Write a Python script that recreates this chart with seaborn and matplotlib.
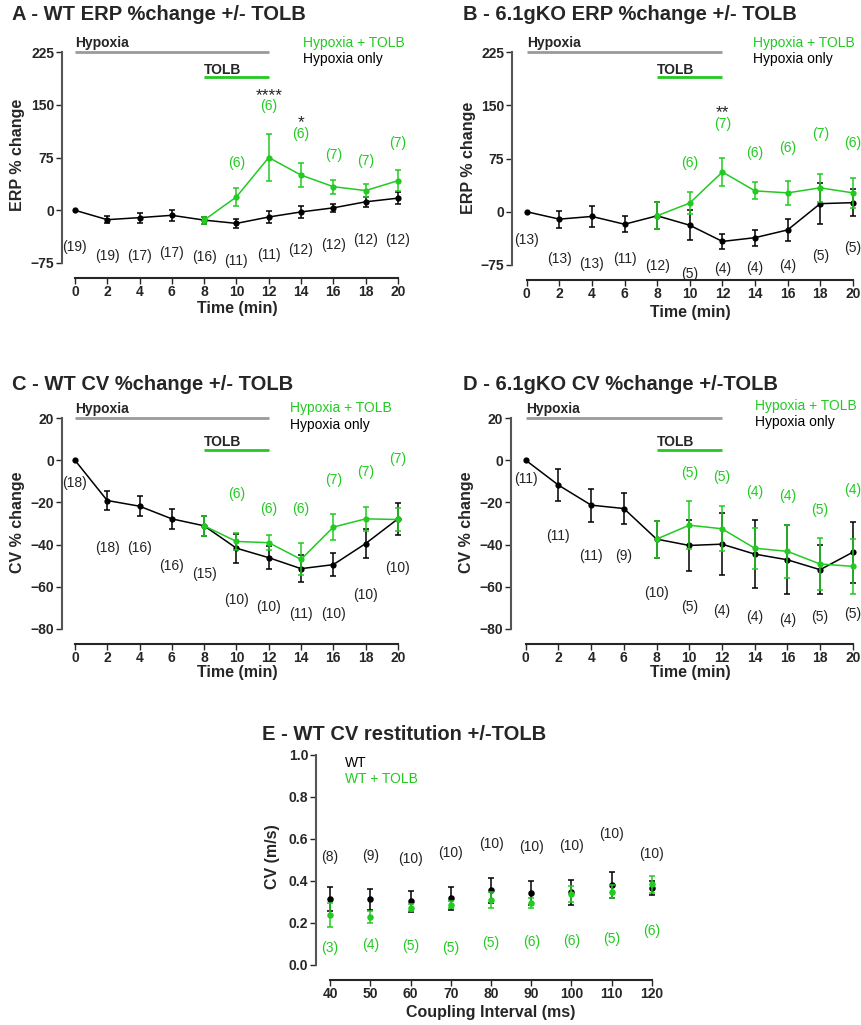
import numpy as np
import seaborn as sns
import matplotlib.pyplot as plt

sns.set_style('ticks')
plt.rcParams['font.family'] = ['Liberation Sans', 'DejaVu Sans']

green = '#22ca22'
grey = '#9a9a9a'
W, H = 861, 1025

time = [0, 2, 4, 6, 8, 10, 12, 14, 16, 18, 20]
time_tolb = [8, 10, 12, 14, 16, 18, 20]
time_n_tolb = [10, 12, 14, 16, 18, 20]

# A - WT ERP
a_hyp = [0, -13.4, -10.5, -7.2, -14, -18.7, -9.6, -2.4, 3.4, 12, 17.2]
a_hyp_err = [0, 5, 7, 8, 5, 6, 9, 9, 6, 7, 9]
a_tolb = [-14, 19, 75, 50, 33.5, 28, 42]
a_tolb_err = [5, 13, 33, 17, 10, 9, 15]
a_hyp_n = [19, 19, 17, 17, 16, 11, 11, 12, 12, 12, 12]
a_tolb_n = [6, 6, 6, 7, 7, 7]
a_stars = {12: '****', 14: '*'}

# B - 6.1gKO ERP
b_hyp = [0, -10.4, -6.6, -17.6, -5.7, -19, -41.8, -36.5, -25.6, 11.4, 12.8]
b_hyp_err = [0, 12, 14.5, 11, 19, 21, 10.5, 11.5, 16, 28.5, 19]
b_tolb = [-5.7, 12.3, 56, 29.4, 26.6, 33.7, 26.6]
b_tolb_err = [19, 15, 20, 12, 16.5, 20, 21]
b_hyp_n = [13, 13, 13, 11, 12, 5, 4, 4, 4, 5, 5]
b_tolb_n = [6, 7, 6, 6, 7, 6]
b_stars = {12: '**'}

# C - WT CV
c_hyp = [0, -19.1, -21.8, -27.8, -31.1, -41.7, -46.2, -51.4, -49.5, -39.5, -27.8]
c_hyp_err = [0, 4.3, 4.7, 4.8, 4.6, 6.9, 5.6, 6.3, 5.6, 6.8, 7.5]
c_tolb = [-31.1, -38.5, -39.1, -47, -31.7, -27.8, -28.1]
c_tolb_err = [4.6, 4, 3.6, 7.6, 6.1, 5.7, 5.4]
c_hyp_n = [18, 18, 16, 16, 15, 10, 10, 11, 10, 10, 10]
c_tolb_n = [6, 6, 6, 7, 7, 7]

# D - 6.1gKO CV
d_hyp = [0, -11.8, -21.3, -22.9, -37.4, -40.4, -39.8, -44.5, -47.2, -51.9, -43.6]
d_hyp_err = [0, 7.4, 7.8, 7.2, 8.8, 12.2, 14.6, 16.2, 16.3, 11.5, 14.4]
d_tolb = [-37.4, -30.8, -32.5, -41.7, -43.2, -49.2, -50.3]
d_tolb_err = [8.8, 11.4, 10.6, 9.7, 12.5, 12.5, 12.9]
d_hyp_n = [11, 11, 11, 9, 10, 5, 4, 4, 4, 5, 5]
d_tolb_n = [5, 5, 4, 4, 5, 4]

# E - WT CV restitution
interval = [40, 50, 60, 70, 80, 90, 100, 110, 120]
e_wt = [0.313, 0.313, 0.303, 0.317, 0.356, 0.343, 0.346, 0.381, 0.368]
e_wt_err = [0.057, 0.05, 0.051, 0.056, 0.059, 0.056, 0.059, 0.063, 0.033]
e_tolb = [0.238, 0.230, 0.273, 0.287, 0.31, 0.294, 0.337, 0.349, 0.384]
e_tolb_err = [0.056, 0.028, 0.016, 0.017, 0.04, 0.023, 0.037, 0.03, 0.04]
e_wt_n = [8, 9, 10, 10, 10, 10, 10, 10, 10]
e_tolb_n = [3, 4, 5, 5, 5, 6, 6, 5, 6]

# where the n labels sit (data units)
a_hyp_n_y = [-52.7, -64.7, -64.7, -61, -66, -72, -63, -56.5, -50, -41.7, -41.7]
a_tolb_n_y = [67, 148.5, 108.7, 79, 69.5, 95]
a_star_y = [163, 124]
b_hyp_n_y = [-40, -66, -73, -66, -76.4, -87.3, -80, -79, -76.4, -62, -51]
b_tolb_n_y = [68, 124, 82.6, 89.7, 110, 97]
b_star_y = [139]
c_hyp_n_y = [-10.6, -41.5, -41.5, -50, -54, -66.3, -69.4, -72.9, -72.9, -63.9, -51.3]
c_tolb_n_y = [-16.1, -23.2, -23.2, -9.2, -5.8, 0.8]
d_hyp_n_y = [-9, -35.7, -45.3, -45.3, -63.1, -69.7, -71.5, -74.5, -75.7, -74.2, -73.1]
d_tolb_n_y = [-6.3, -7.9, -15, -17, -23.4, -13.9]
e_wt_n_y = [0.516, 0.52, 0.505, 0.532, 0.576, 0.563, 0.568, 0.625, 0.53]
e_tolb_n_y = [0.079, 0.095, 0.09, 0.079, 0.106, 0.111, 0.116, 0.122, 0.162]

fig = plt.figure(figsize=(W / 100, H / 100), dpi=100)


def px_axes(left, top, right, bottom):
    return fig.add_axes([left / W, 1 - bottom / H, (right - left) / W, (bottom - top) / H])


def ftext(x, y, s, **kw):
    fig.text(x / W, 1 - y / H, s, **kw)


def style_axes(ax, xlim, xb, ylim, xticks, yticks):
    ax.set_xlim(*xlim); ax.set_ylim(*ylim)
    ax.set_xticks(xticks); ax.set_yticks(yticks)
    sns.despine(ax=ax)
    ax.spines['bottom'].set_position(('outward', 10.5))
    ax.spines['bottom'].set_bounds(*xb)
    ax.spines['left'].set_bounds(*ylim)
    ax.spines['left'].set_color('#555555')
    for s in ['left', 'bottom']:
        ax.spines[s].set_linewidth(1.5)
    ax.tick_params(direction='out', length=4, width=1, pad=1.5, labelsize=10)
    for lab in ax.get_xticklabels() + ax.get_yticklabels():
        lab.set_fontweight('bold')
    ax.set_xlabel(''); ax.set_ylabel('')
    ax.patch.set_alpha(0)


def series(ax, x, y, err, col):
    sns.lineplot(x=x, y=y, ax=ax, color=col, marker='o', markersize=4.5,
                 markeredgewidth=0, linewidth=1.1, zorder=3)
    keep = [i for i in range(len(x)) if err[i] > 0]
    ax.errorbar([x[i] for i in keep], [y[i] for i in keep], yerr=[err[i] for i in keep],
                fmt='none', ecolor=col, elinewidth=1.1, capsize=2.3, capthick=1.1, zorder=3)


def time_panel(left, top, right, bottom, xlim, ylim, yticks, hyp, hyp_err, tolb, tolb_err,
               hyp_n, hyp_n_y, tolb_n, tolb_n_y, bar_y, lab_y, leg_x, stars=None, star_y=None):
    ax = px_axes(left, top, right, bottom)
    series(ax, time, hyp, hyp_err, 'black')
    series(ax, time_tolb, tolb, tolb_err, green)
    for t, n, y in zip(time, hyp_n, hyp_n_y):
        ax.text(t, y, '(%d)' % n, ha='center', va='center', fontsize=10, color='#222222', clip_on=False)
    for t, n, y in zip(time_n_tolb, tolb_n, tolb_n_y):
        ax.text(t, y, '(%d)' % n, ha='center', va='center', fontsize=10, color=green, clip_on=False)
    if stars:
        for (t, s), y in zip(stars.items(), star_y):
            ax.text(t, y, s, ha='center', va='center', fontsize=12.5, color='#222222')
    # treatment bars
    ax.plot([0, 12], [bar_y[0], bar_y[0]], color=grey, lw=2, clip_on=False, solid_capstyle='butt')
    ax.plot([8, 12], [bar_y[1], bar_y[1]], color=green, lw=2, clip_on=False, solid_capstyle='butt')
    ax.text(0, lab_y[0], 'Hypoxia', fontsize=10, fontweight='bold', va='center', clip_on=False)
    ax.text(8, lab_y[1], 'TOLB', fontsize=10, fontweight='bold', va='center', clip_on=False)
    ax.text(leg_x, lab_y[2], 'Hypoxia + TOLB', fontsize=10, color=green, va='center', clip_on=False)
    ax.text(leg_x, lab_y[3], 'Hypoxia only', fontsize=10, color='black', va='center', clip_on=False)
    style_axes(ax, xlim, (0, 20), ylim, time, yticks)
    return ax


erp_ticks = [-75, 0, 75, 150, 225]
cv_ticks = [-80, -60, -40, -20, 0, 20]

time_panel(62, 52, 406, 263, (-0.8, 20.5), (-75, 225), erp_ticks, a_hyp, a_hyp_err, a_tolb, a_tolb_err,
           a_hyp_n, a_hyp_n_y, a_tolb_n, a_tolb_n_y, (225, 190), (238, 200, 238, 215), 14.1,
           a_stars, a_star_y)
time_panel(512, 52, 861, 265, (-0.9, 20.5), (-75, 225), erp_ticks, b_hyp, b_hyp_err, b_tolb, b_tolb_err,
           b_hyp_n, b_hyp_n_y, b_tolb_n, b_tolb_n_y, (225, 190), (238, 200, 238, 215), 13.9,
           b_stars, b_star_y)
time_panel(62, 418, 406, 629, (-0.8, 20.5), (-80, 20), cv_ticks, c_hyp, c_hyp_err, c_tolb, c_tolb_err,
           c_hyp_n, c_hyp_n_y, c_tolb_n, c_tolb_n_y, (20, 5), (24.4, 8.8, 24.9, 16.6), 13.3)
time_panel(511, 418, 861, 629, (-0.9, 20.5), (-80, 20), cv_ticks, d_hyp, d_hyp_err, d_tolb, d_tolb_err,
           d_hyp_n, d_hyp_n_y, d_tolb_n, d_tolb_n_y, (20, 5), (24.4, 8.8, 25.8, 18), 14.0)

# restitution panel
ax = px_axes(316, 755, 660, 965)
for y, err, col in [(e_wt, e_wt_err, 'black'), (e_tolb, e_tolb_err, green)]:
    sns.scatterplot(x=interval, y=y, ax=ax, color=col, s=22, linewidth=0, zorder=3)
    ax.errorbar(interval, y, yerr=err, fmt='none', ecolor=col, elinewidth=1.1,
                capsize=2.3, capthick=1.1, zorder=3)
for x, n, y in zip(interval, e_wt_n, e_wt_n_y):
    ax.text(x, y, '(%d)' % n, ha='center', va='center', fontsize=10, color='#222222')
for x, n, y in zip(interval, e_tolb_n, e_tolb_n_y):
    ax.text(x, y, '(%d)' % n, ha='center', va='center', fontsize=10, color=green)
ax.text(43.7, 0.962, 'WT', fontsize=10, color='black', va='center')
ax.text(43.7, 0.886, 'WT + TOLB', fontsize=10, color=green, va='center')
style_axes(ax, (36.5, 122), (40, 120), (0, 1.0), interval, [0, 0.2, 0.4, 0.6, 0.8, 1.0])
ax.set_yticklabels(['0.0', '0.2', '0.4', '0.6', '0.8', '1.0'], fontweight='bold')

# titles and axis labels
tkw = dict(fontsize=14.5, fontweight='bold', va='center')
ftext(12, 15, 'A - WT ERP %change +/- TOLB', **tkw)
ftext(463, 15, 'B - 6.1gKO ERP %change +/- TOLB', **tkw)
ftext(12, 385, 'C - WT CV %change +/- TOLB', **tkw)
ftext(463, 385, 'D - 6.1gKO CV %change +/-TOLB', **tkw)
ftext(262, 735, 'E - WT CV restitution +/-TOLB', **tkw)

lkw = dict(fontsize=11.5, fontweight='bold', ha='center', va='center')
ftext(18, 155, 'ERP % change', rotation=90, **lkw)
ftext(468, 158, 'ERP % change', rotation=90, **lkw)
ftext(18, 522, 'CV % change', rotation=90, **lkw)
ftext(467, 522, 'CV % change', rotation=90, **lkw)
ftext(272, 857, 'CV (m/s)', rotation=90, **lkw)
ftext(237, 309, 'Time (min)', **lkw)
ftext(690, 312, 'Time (min)', **lkw)
ftext(237, 673, 'Time (min)', **lkw)
ftext(690, 673, 'Time (min)', **lkw)
ftext(491, 1013, 'Coupling Interval (ms)', **lkw)

fig.savefig('out.png', dpi=100)
